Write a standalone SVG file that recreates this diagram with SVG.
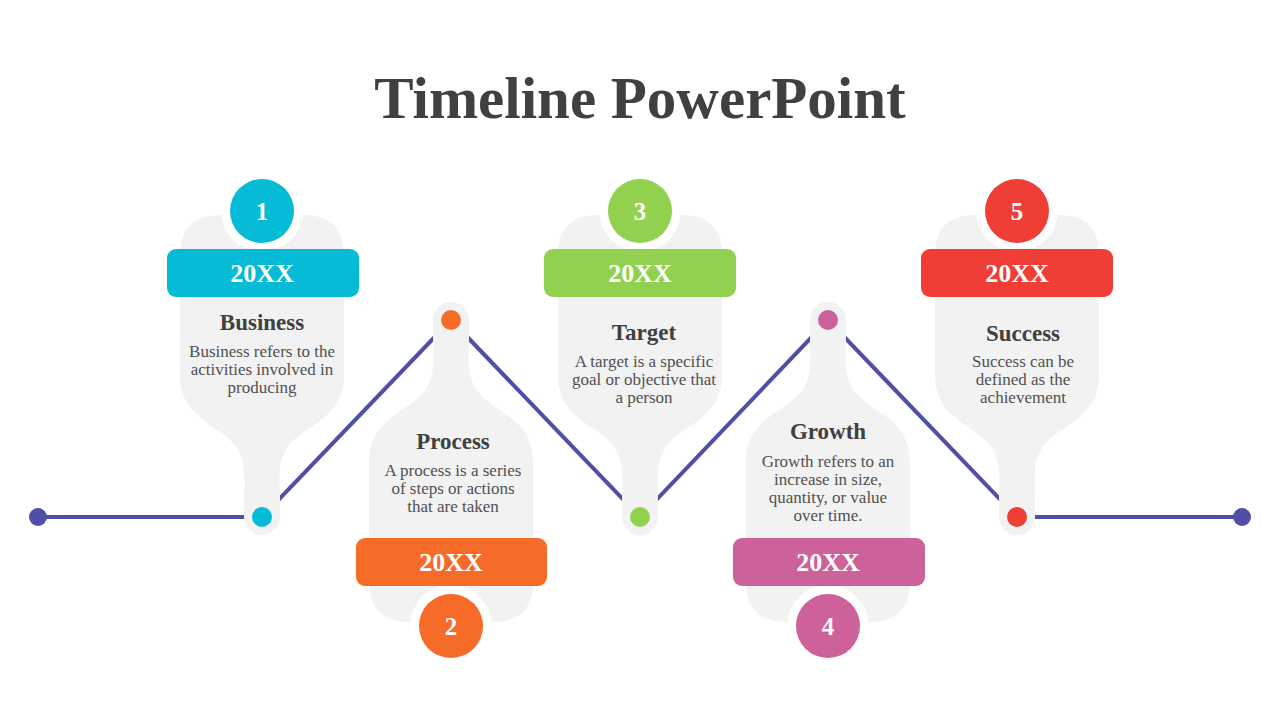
<svg xmlns="http://www.w3.org/2000/svg" width="1280" height="720" viewBox="0 0 1280 720">
<defs>
<style>
.sh{fill:#f2f2f2}
.t{font-family:"Liberation Serif","DejaVu Serif",serif;text-anchor:middle}
.h{font-size:23px;font-weight:bold;fill:#404040}
.d{font-size:17px;fill:#505050}
.y{font-size:26px;font-weight:bold;fill:#fff}
.n{font-size:25px;font-weight:bold;fill:#fff}
</style>
<path id="shape" class="sh" d="M -82,255 Q -82,215 -42,215 L 42,215 Q 82,215 82,255 L 82,375 C 82,420 40,425 25,448 C 15,465 18,480 18,500 L 18,517 L -18,517 L -18,500 C -18,480 -15,465 -25,448 C -40,425 -82,420 -82,375 Z"/>
</defs>
<rect width="1280" height="720" fill="#fff"/>
<text class="t" x="640" y="118" font-size="59" font-weight="bold" fill="#404040">Timeline PowerPoint</text>
<g id="connectors" stroke="#4F4FA8" stroke-width="4" fill="none">
<polyline points="38,517 262,517 451,320 640,517 828,320 1017,517 1242,517"/>
</g>
<g id="end-left"><circle cx="38" cy="517" r="9" fill="#4F4FA8"/></g>
<g id="end-right"><circle cx="1242" cy="517" r="9" fill="#4F4FA8"/></g>
<g id="n1">
<use href="#shape" transform="translate(262,0)"/>
<circle cx="262" cy="517" r="18" fill="#f2f2f2"/><circle cx="262" cy="517" r="10" fill="#05BBD5"/>
<circle cx="262" cy="211" r="41" fill="#fff"/><circle cx="262" cy="211" r="32" fill="#05BBD5"/>
<text class="t n" x="262" y="220">1</text>
<rect x="167" y="249" width="192" height="48" rx="9" fill="#05BBD5"/>
<text class="t y" x="262" y="282">20XX</text>
<text class="t h" x="262" y="330">Business</text>
<text class="t d" x="262" y="357">Business refers to the</text>
<text class="t d" x="262" y="375">activities involved in</text>
<text class="t d" x="262" y="393">producing</text>
</g>
<g id="n2">
<use href="#shape" transform="translate(451,837) scale(1,-1)"/>
<circle cx="451" cy="320" r="18" fill="#f2f2f2"/><circle cx="451" cy="320" r="10" fill="#F76B28"/>
<circle cx="451" cy="626" r="41" fill="#fff"/><circle cx="451" cy="626" r="32" fill="#F76B28"/>
<text class="t n" x="451" y="635">2</text>
<rect x="356" y="538" width="191" height="48" rx="9" fill="#F76B28"/>
<text class="t y" x="451" y="571">20XX</text>
<text class="t h" x="453" y="449">Process</text>
<text class="t d" x="453" y="476">A process is a series</text>
<text class="t d" x="453" y="494">of steps or actions</text>
<text class="t d" x="453" y="512">that are taken</text>
</g>
<g id="n3">
<use href="#shape" transform="translate(640,0)"/>
<circle cx="640" cy="517" r="18" fill="#f2f2f2"/><circle cx="640" cy="517" r="10" fill="#92D050"/>
<circle cx="640" cy="211" r="41" fill="#fff"/><circle cx="640" cy="211" r="32" fill="#92D050"/>
<text class="t n" x="640" y="220">3</text>
<rect x="544" y="249" width="192" height="48" rx="9" fill="#92D050"/>
<text class="t y" x="640" y="282">20XX</text>
<text class="t h" x="644" y="340">Target</text>
<text class="t d" x="644" y="367">A target is a specific</text>
<text class="t d" x="644" y="385">goal or objective that</text>
<text class="t d" x="644" y="403">a person</text>
</g>
<g id="n4">
<use href="#shape" transform="translate(828,837) scale(1,-1)"/>
<circle cx="828" cy="320" r="18" fill="#f2f2f2"/><circle cx="828" cy="320" r="10" fill="#CD6199"/>
<circle cx="828" cy="626" r="41" fill="#fff"/><circle cx="828" cy="626" r="32" fill="#CD6199"/>
<text class="t n" x="828" y="635">4</text>
<rect x="733" y="538" width="192" height="48" rx="9" fill="#CD6199"/>
<text class="t y" x="828" y="571">20XX</text>
<text class="t h" x="828" y="439">Growth</text>
<text class="t d" x="828" y="467">Growth refers to an</text>
<text class="t d" x="828" y="485">increase in size,</text>
<text class="t d" x="828" y="503">quantity, or value</text>
<text class="t d" x="828" y="521">over time.</text>
</g>
<g id="n5">
<use href="#shape" transform="translate(1017,0)"/>
<circle cx="1017" cy="517" r="18" fill="#f2f2f2"/><circle cx="1017" cy="517" r="10" fill="#EE3E36"/>
<circle cx="1017" cy="211" r="41" fill="#fff"/><circle cx="1017" cy="211" r="32" fill="#EE3E36"/>
<text class="t n" x="1017" y="220">5</text>
<rect x="921" y="249" width="192" height="48" rx="9" fill="#EE3E36"/>
<text class="t y" x="1017" y="282">20XX</text>
<text class="t h" x="1023" y="341">Success</text>
<text class="t d" x="1023" y="367">Success can be</text>
<text class="t d" x="1023" y="385">defined as the</text>
<text class="t d" x="1023" y="403">achievement</text>
</g>
</svg>
